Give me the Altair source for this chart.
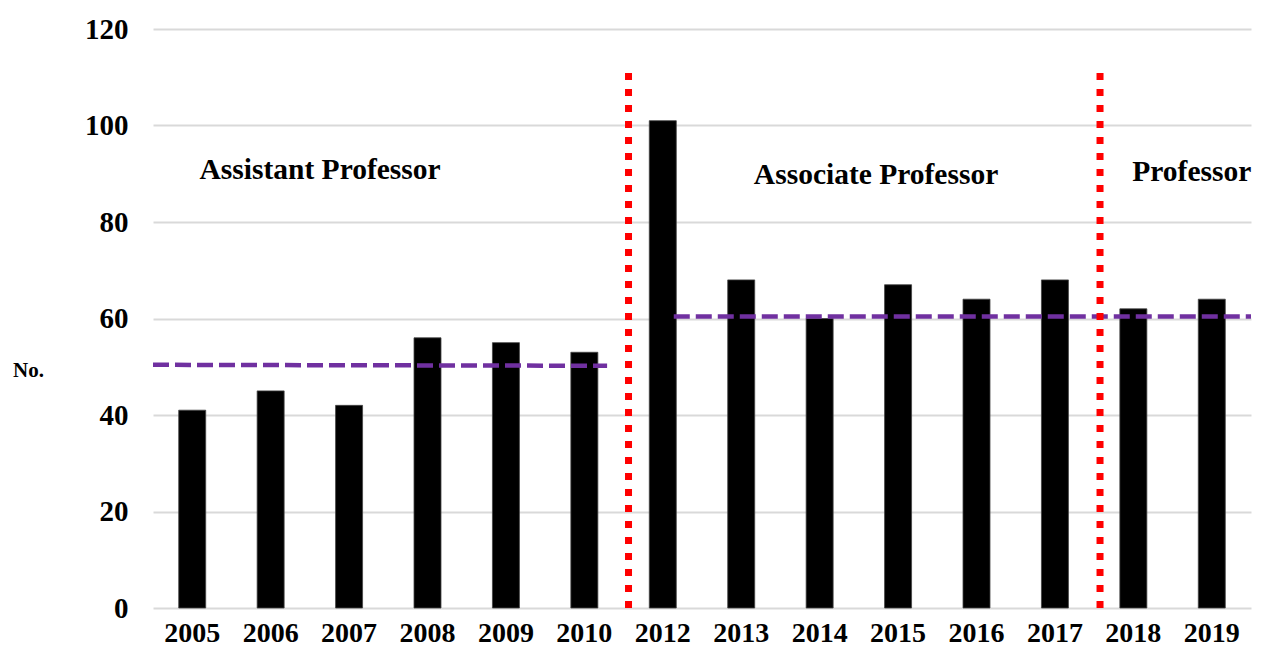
import altair as alt
import pandas as pd

years = ["2005", "2006", "2007", "2008", "2009", "2010", "2012",
         "2013", "2014", "2015", "2016", "2017", "2018", "2019"]
counts = [41, 45, 42, 56, 55, 53, 101, 68, 60, 67, 64, 68, 62, 64]

# dashed average lines
avg1_from, avg1_to, avg1_y1, avg1_y2 = "2005", "2010", 50.4, 50.2
avg2_from, avg2_to, avg2_y1, avg2_y2 = "2012", "2019", 60.4, 60.4

# dotted separators
sep_years = ["2012", "2018"]
sep_top = [112, 112]

# stage labels
stage_text = ["Assistant Professor", "Associate Professor", "Professor"]
stage_year = ["2007", "2015", "2019"]
stage_y = [90.8, 89.7, 90.4]
stage_dx = [-29, -22, -20]

FONT = "Liberation Serif"

bars_df = pd.DataFrame({"year": years, "count": counts})

xscale = alt.Scale(domain=years, paddingInner=0, paddingOuter=0)
yscale = alt.Scale(domain=[0, 120])

bars = alt.Chart(bars_df).mark_bar(color="black", stroke="#444444", strokeWidth=0.8,
                                   size=27).encode(
    x=alt.X("year:N", scale=xscale, sort=years,
            axis=alt.Axis(title=None, labelAngle=0, labelFont=FONT, labelFontSize=28,
                          labelFontWeight="bold", labelColor="black", labelPadding=11,
                          ticks=False, domain=False, grid=False)),
    y=alt.Y("count:Q", scale=yscale,
            axis=alt.Axis(title="No.", titleAngle=0, titleFont=FONT, titleFontSize=21,
                          titleFontWeight="bold", titleColor="black",
                          titleX=-125, titleY=341, titleAlign="center", titleBaseline="middle",
                          values=[0, 20, 40, 60, 80, 100, 120],
                          labelFont=FONT, labelFontSize=29, labelFontWeight="bold",
                          labelColor="black", labelPadding=25, ticks=False, domain=False,
                          gridColor="#d9d9d9", gridWidth=2)),
)


def avg_line(x_from, x_to, y1, y2, bp_from, bp_to):
    df = pd.DataFrame({"x0": [x_from], "x1": [x_to], "y1": [y1], "y2": [y2]})
    return alt.Chart(df).mark_rule(color="#7030A0", strokeWidth=4.5,
                                   strokeDash=[16, 6], clip=False).encode(
        x=alt.X("x0:N", scale=xscale, bandPosition=bp_from),
        x2=alt.X2("x1", bandPosition=bp_to),
        y=alt.Y("y1:Q", scale=yscale),
        y2="y2:Q",
    )


avg_a = avg_line(avg1_from, avg1_to, avg1_y1, avg1_y2, 0, 0.79)
avg_b = avg_line(avg2_from, avg2_to, avg2_y1, avg2_y2, 0.64, 1)

sep_layers = []
for yr, bp, top in zip(sep_years, [0.063, 0.075], sep_top):
    sdf = pd.DataFrame({"year": [yr], "top": [top], "bottom": [0]})
    sep_layers.append(
        alt.Chart(sdf).mark_rule(color="#FF0000", strokeWidth=7,
                                 strokeDash=[7, 9], strokeCap="butt").encode(
            x=alt.X("year:N", scale=xscale, bandPosition=bp),
            y=alt.Y("bottom:Q", scale=yscale),
            y2="top:Q",
        )
    )

label_layers = []
for t, yr, yv, dx in zip(stage_text, stage_year, stage_y, stage_dx):
    ldf = pd.DataFrame({"text": [t], "year": [yr], "v": [yv]})
    label_layers.append(
        alt.Chart(ldf).mark_text(font=FONT, fontSize=29.5, fontWeight="bold", color="black",
                                 align="center", baseline="middle", dx=dx).encode(
            x=alt.X("year:N", scale=xscale),
            y=alt.Y("v:Q", scale=yscale),
            text="text:N",
        )
    )

chart = alt.layer(bars, avg_a, avg_b, *sep_layers, *label_layers).properties(
    width=1098, height=579,
    background="white",
    autosize=alt.AutoSizeParams(type="none"),
    padding={"left": 145, "top": 21, "right": 3, "bottom": 38},
).configure_view(stroke=None)

chart.save("out.html", embed_options={"renderer": "svg", "actions": False})
